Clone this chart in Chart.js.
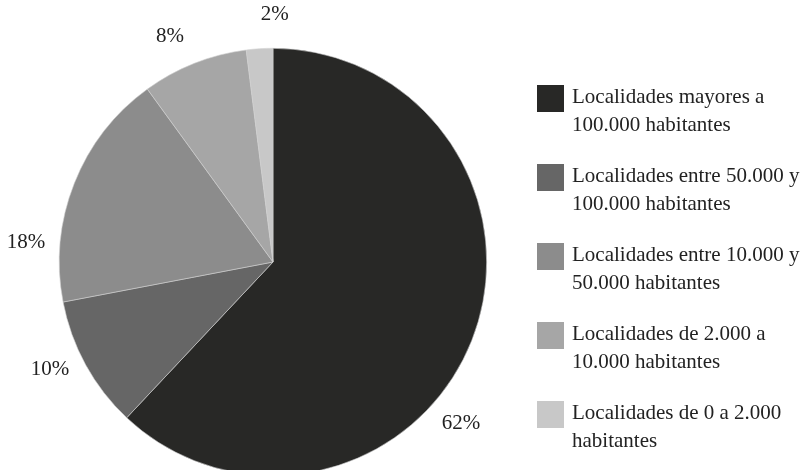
<!DOCTYPE html>
<html>
<head>
<meta charset="utf-8">
<script src="https://cdn.jsdelivr.net/npm/chart.js@4"></script>
<style>
  html, body { margin: 0; padding: 0; background: #fff; }
  #wrap { position: relative; width: 804px; height: 470px; overflow: hidden; }
  #chartBox { position: absolute; left: 0; top: 0; width: 804px; height: 490px; }
  #legend { position: absolute; left: 537px; top: 82px; font-family: "Liberation Serif", serif; font-size: 21px; color: #222; }
  .leg-item { display: flex; align-items: flex-start; height: 79px; }
  .leg-box { width: 27px; height: 27px; margin-top: 3px; margin-right: 8px; flex: none; }
  .leg-text { line-height: 28px; white-space: nowrap; }
</style>
</head>
<body>
<div id="wrap">
  <div id="chartBox"><canvas id="pieChart" width="804" height="490"></canvas></div>
  <div id="legend"></div>
</div>
<script>
// data
const categories = [
  ["Localidades mayores a", "100.000 habitantes"],
  ["Localidades entre 50.000 y", "100.000 habitantes"],
  ["Localidades entre 10.000 y", "50.000 habitantes"],
  ["Localidades de 2.000 a", "10.000 habitantes"],
  ["Localidades de 0 a 2.000", "habitantes"]
];
const shares = [62, 10, 18, 8, 2];
const colors = ["#282826", "#666666", "#8c8c8c", "#a6a6a6", "#c8c8c8"];

// ======================== LEGEND ========================

function buildLegend() {
  const legend = document.getElementById("legend");
  categories.forEach((lines, i) => {
    const item = document.createElement("div");
    item.className = "leg-item";
    item.innerHTML = `
      <div class="leg-box" style="background:${colors[i]}"></div>
      <div class="leg-text">${lines.join("<br>")}</div>
    `;
    legend.appendChild(item);
  });
}

// ======================== OUTSIDE LABELS ========================

// "best fit" style: labels sit outside the arc, nudged a little along the rim (degrees)
const outsideLabels = {
  id: "outsideLabels",
  afterDatasetsDraw(chart, args, opts) {
    const ctx = chart.ctx;
    const meta = chart.getDatasetMeta(0);
    ctx.save();
    ctx.font = '21px "Liberation Serif", serif';
    ctx.fillStyle = "#222";
    ctx.textAlign = "center";
    ctx.textBaseline = "middle";
    meta.data.forEach((arc, i) => {
      const nudge = ((opts.nudge && opts.nudge[i]) || 0) * Math.PI / 180;
      const mid = (arc.startAngle + arc.endAngle) / 2 + nudge;
      const r = arc.outerRadius + opts.offset;
      const x = arc.x + Math.cos(mid) * r;
      const y = arc.y + Math.sin(mid) * r;
      ctx.fillText(shares[i] + "%", x, y);
    });
    ctx.restore();
  }
};

buildLegend();

new Chart(document.getElementById("pieChart"), {
  type: "pie",
  data: {
    labels: categories.map((c) => c.join(" ")),
    datasets: [{
      data: shares,
      backgroundColor: colors,
      borderColor: "#d0d0d0",
      borderWidth: 0.6
    }]
  },
  options: {
    responsive: false,
    animation: false,
    layout: { padding: { left: 59, right: 317, top: 48, bottom: 14 } },
    plugins: {
      legend: { display: false },
      tooltip: { enabled: false },
      outsideLabels: { offset: 34, nudge: [19, 3, -17, -3, 4] }
    }
  },
  plugins: [outsideLabels]
});
</script>
</body>
</html>
